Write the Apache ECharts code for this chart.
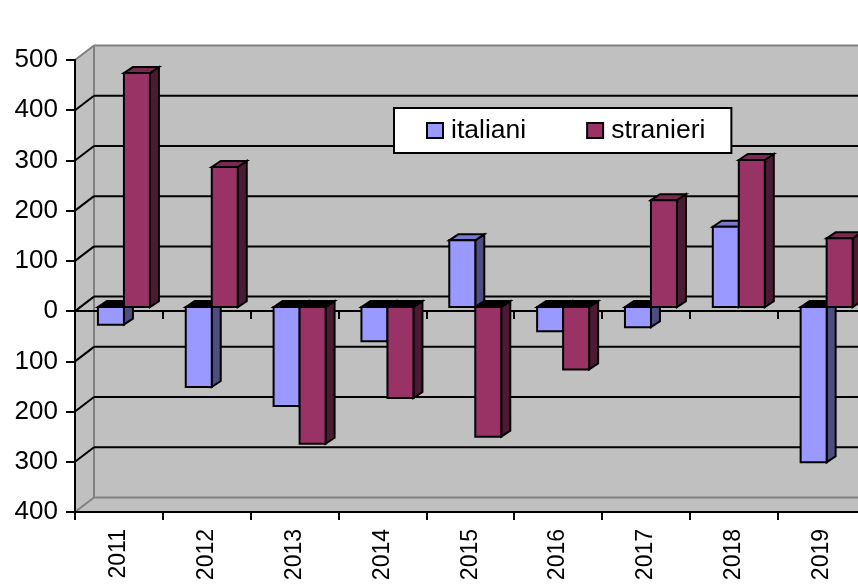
<!DOCTYPE html>
<html>
<head>
<meta charset="utf-8">
<title>italiani stranieri</title>
<script src="https://cdn.jsdelivr.net/npm/echarts@6/dist/echarts.min.js"></script>
<style>
html, body { margin: 0; padding: 0; background: #fff; }
#chart { width: 858px; height: 585px; overflow: hidden; }
</style>
</head>
<body>
<div id="chart"></div>
<script type="text/javascript">
var categories = ['2011', '2012', '2013', '2014', '2015', '2016', '2017', '2018', '2019'];
var italiani = [-35, -159, -197, -68, 133, -48, -40, 160, -309];
var stranieri = [466, 279, -272, -181, -258, -124, 213, 293, 137];
var yTicks = [400, 300, 200, 100, 0, -100, -200, -300];

var font = '"Liberation Sans", Arial, sans-serif';
// depth of the fake 3d box
var wallDx = 19, wallDy = -14.5;
var barDx = 9, barDy = -6;
var barShiftX = 5, barShiftY = -4;
var barWidth = 26;

function poly(points, fill, stroke, width) {
	return {
		type: 'polygon',
		shape: { points: points },
		style: { fill: fill, stroke: stroke, lineWidth: width }
	};
}

function line(x1, y1, x2, y2, color, width) {
	return {
		type: 'line',
		shape: { x1: x1, y1: y1, x2: x2, y2: y2 },
		style: { stroke: color, lineWidth: width, fill: null }
	};
}

// side wall, back wall and floor
function renderWall(params, api) {
	var c = params.coordSys;
	var l = c.x, r = c.x + c.width, t = c.y, b = c.y + c.height;
	var edge = '#808080';
	return {
		type: 'group',
		children: [
			poly([[l, t], [l + wallDx, t + wallDy], [r + wallDx, t + wallDy], [r + wallDx, b + wallDy], [r, b], [l, b]], '#c0c0c0', null, 0),
			line(l, t, l + wallDx, t + wallDy, edge, 2),
			line(l + wallDx, t + wallDy, r + wallDx, t + wallDy, edge, 2),
			line(l + wallDx, t + wallDy, l + wallDx, b + wallDy, edge, 2),
			line(l + wallDx, b + wallDy, r + wallDx, b + wallDy, edge, 2),
			line(l, b, l + wallDx, b + wallDy, edge, 2)
		]
	};
}

function renderGridLine(params, api) {
	var c = params.coordSys;
	var y = api.coord([0, api.value(1)])[1];
	return {
		type: 'group',
		children: [
			line(c.x, y, c.x + wallDx, y + wallDy, '#000', 2),
			line(c.x + wallDx, y + wallDy, c.x + c.width + wallDx, y + wallDy, '#000', 2)
		]
	};
}

function barRenderer(seriesPos, front, side, top) {
	return function (params, api) {
		var i = api.value(0), v = api.value(1);
		var center = api.coord([i, 0])[0];
		var x0 = center + barShiftX + seriesPos * barWidth;
		var x1 = x0 + barWidth;
		var y0 = api.coord([i, 0])[1] + barShiftY;
		var yv = api.coord([i, v])[1] + barShiftY;
		var yTop = Math.min(y0, yv), yBot = Math.max(y0, yv);
		// a bar going down shows a black lid
		var lid = v < 0 ? '#000' : top;
		return {
			type: 'group',
			children: [
				poly([[x1, yTop], [x1 + barDx, yTop + barDy], [x1 + barDx, yBot + barDy], [x1, yBot]], side, '#000', 2),
				poly([[x0, yTop], [x0 + barDx, yTop + barDy], [x1 + barDx, yTop + barDy], [x1, yTop]], lid, '#000', 2),
				poly([[x0, yTop], [x1, yTop], [x1, yBot], [x0, yBot]], front, '#000', 2)
			]
		};
	};
}

function toData(list) {
	return list.map(function (v, i) { return [i, v]; });
}

var chart = echarts.init(document.getElementById('chart'), null, { renderer: 'canvas' });
var options = {
	animation: false,
	backgroundColor: '#fff',
	grid: { left: 75, top: 60, width: 790.56, height: 452, containLabel: false, outerBoundsMode: 'none' },
	legend: {
		left: 394,
		top: 108,
		padding: [9, 26, 9, 32],
		backgroundColor: '#fff',
		borderColor: '#000',
		borderWidth: 2,
		itemWidth: 16,
		itemHeight: 15,
		itemGap: 60,
		icon: 'rect',
		itemStyle: { borderColor: '#000', borderWidth: 2 },
		textStyle: { fontFamily: font, fontSize: 26.5, color: '#000', padding: [0, 0, 0, 3] },
		data: ['italiani', 'stranieri']
	},
	xAxis: [
		{
			type: 'category',
			data: categories,
			position: 'bottom',
			z: 1,
			axisLine: { onZero: false, lineStyle: { color: '#000', width: 2 } },
			axisTick: { show: true, length: 8, alignWithLabel: false, lineStyle: { color: '#000', width: 2 } },
			axisLabel: { rotate: 90, margin: 17, interval: 0, fontFamily: font, fontSize: 23, color: '#000' }
		},
		{
			type: 'category',
			data: categories,
			position: 'bottom',
			z: 1,
			axisLine: { onZero: true, lineStyle: { color: '#000', width: 2 } },
			axisTick: { show: true, length: 8, lineStyle: { color: '#000', width: 2 } },
			axisLabel: { show: false }
		}
	],
	yAxis: {
		type: 'value',
		min: -400,
		max: 500,
		interval: 100,
		z: 1,
		splitLine: { show: false },
		axisLine: { show: true, onZero: false, lineStyle: { color: '#000', width: 2 } },
		axisTick: { show: true, length: 9, lineStyle: { color: '#000', width: 2 } },
		axisLabel: {
			margin: 17,
			fontFamily: font,
			fontSize: 26,
			color: '#000',
			formatter: function (v) { return String(Math.abs(v)); }
		}
	},
	series: [
		{ type: 'custom', name: 'wall', silent: true, z: 0, data: [[0, 0]], renderItem: renderWall },
		{ type: 'custom', name: 'lines', silent: true, z: 0, data: toData(yTicks).map(function (d) { return [0, d[1]]; }), renderItem: renderGridLine },
		{
			type: 'custom', name: 'italiani', z: 2,
			itemStyle: { color: '#9999ff' },
			data: toData(italiani),
			renderItem: barRenderer(-1, '#9999ff', '#4d4d80', '#7a7acc')
		},
		{
			type: 'custom', name: 'stranieri', z: 3,
			itemStyle: { color: '#993366' },
			data: toData(stranieri),
			renderItem: barRenderer(0, '#993366', '#4d1a33', '#7a2952')
		}
	]
};
chart.setOption(options);
</script>
</body>
</html>
